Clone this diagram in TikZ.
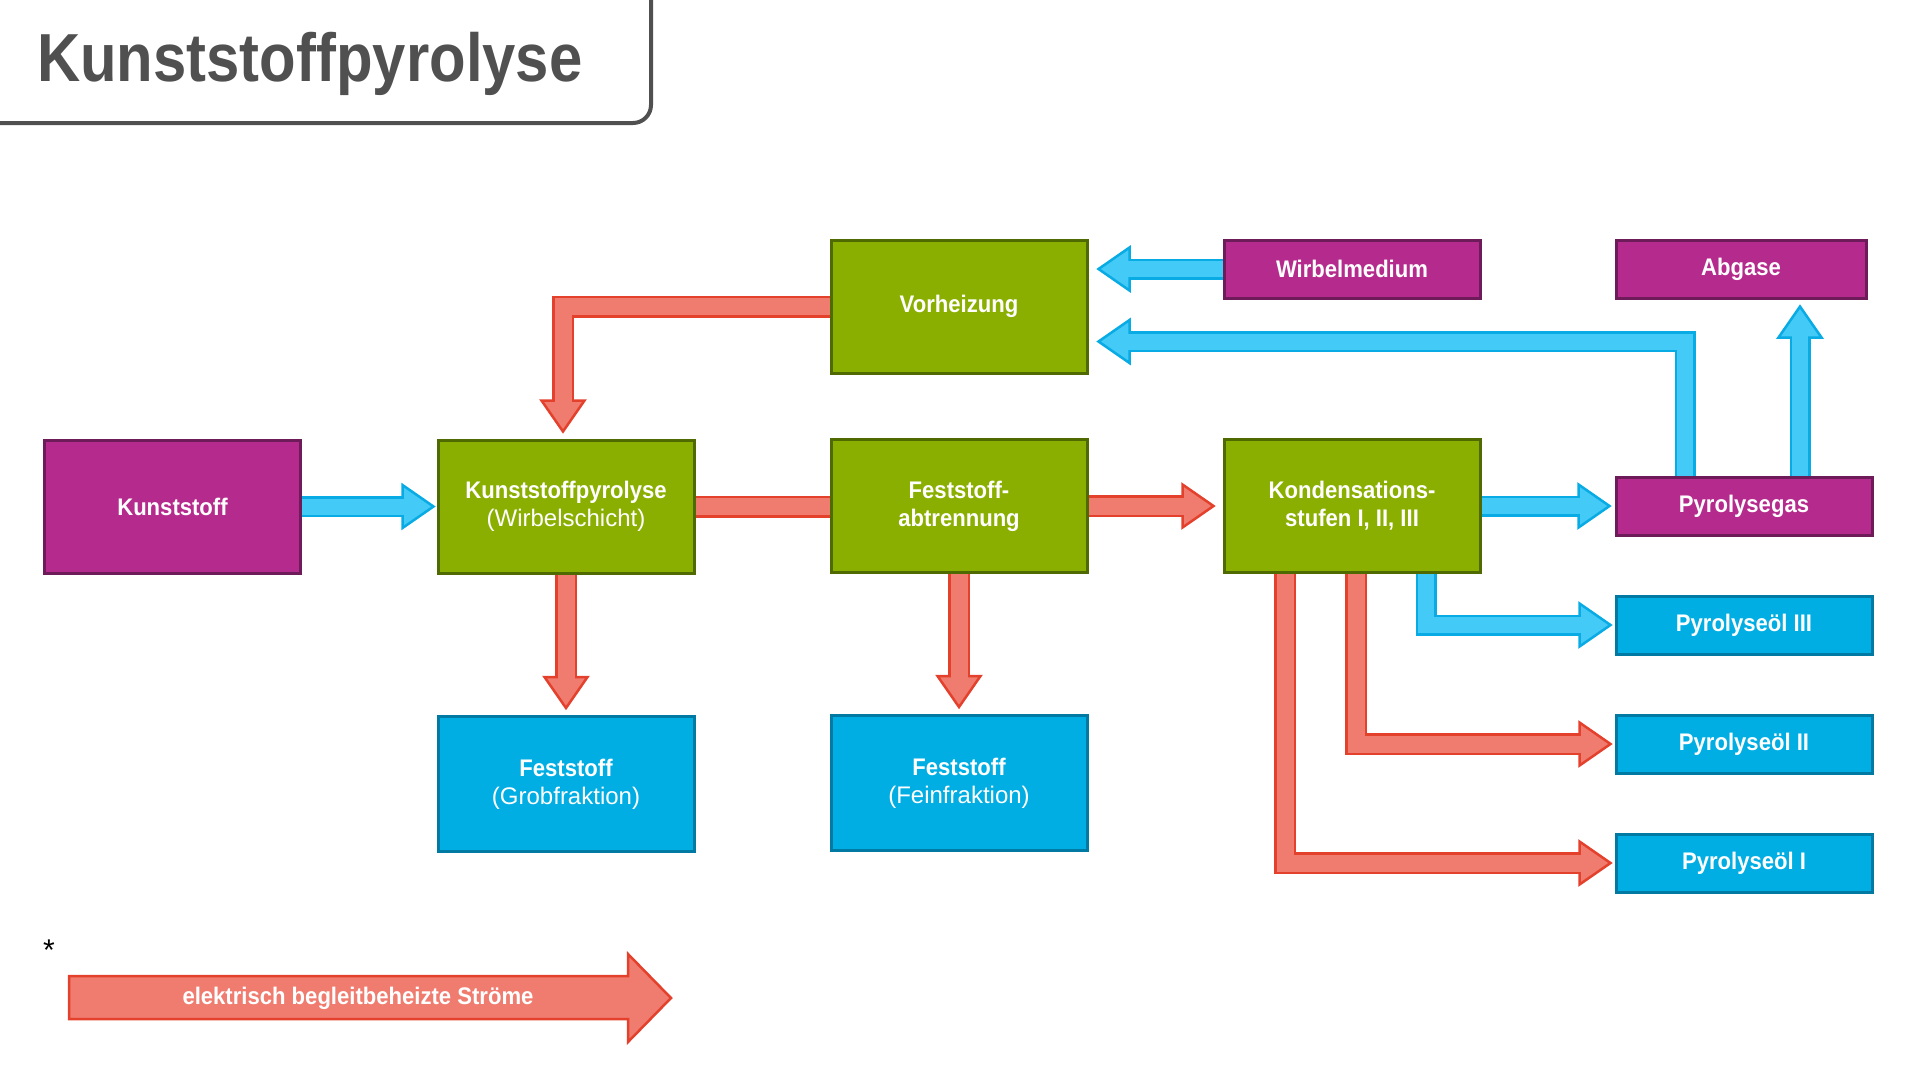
\documentclass[tikz,border=0pt]{standalone}
\usepackage{fontspec}
\setmainfont{Liberation Sans}
\newfontfamily\bxb{Liberation Sans}[FakeStretch=0.92]
\newfontfamily\ttlfont{Liberation Sans}[FakeStretch=0.88]
\usetikzlibrary{calc}
\pgfdeclarelayer{bg}
\pgfsetlayers{bg,main}

\definecolor{magF}{HTML}{B52B8D}
\definecolor{magD}{HTML}{6E1B5A}
\definecolor{grnF}{HTML}{8AAF00}
\definecolor{grnD}{HTML}{4F6A00}
\definecolor{bluF}{HTML}{00AEE3}
\definecolor{bluD}{HTML}{0079A3}
\definecolor{arbF}{HTML}{44CAF7}
\definecolor{arbD}{HTML}{08ABE3}
\definecolor{arrF}{HTML}{F07B6F}
\definecolor{arrD}{HTML}{E3412C}
\definecolor{ttl}{HTML}{505050}

\newcommand\boxtxt{\bxb\bfseries\fontsize{24}{28}\selectfont}
\newcommand\reg{\rmfamily\mdseries}

\tikzset{
  box/.style={draw, line width=3pt, minimum width=256pt, minimum height=133pt,
    inner sep=0pt, align=center, text=white, font=\boxtxt},
  magbox/.style={box, fill=magF, draw=magD},
  grnbox/.style={box, fill=grnF, draw=grnD},
  blubox/.style={box, fill=bluF, draw=bluD},
  blueedge/.style={draw=arbD, line width=21pt, line join=miter},
  bluebody/.style={draw=arbF, line width=16pt, line join=miter},
  bluehead/.style={fill=arbF, draw=arbD, line width=2.5pt, line join=miter},
  rededge/.style={draw=arrD, line width=22pt, line join=miter},
  redbody/.style={draw=arrF, line width=17pt, line join=miter},
  redhead/.style={fill=arrF, draw=arrD, line width=2.5pt, line join=miter},
}

% #1 colour prefix, #2 path up to base, #3 base coordinate, #4 tip coordinate
\newcommand\fatarrow[4]{%
  \filldraw[#1head] ($(#3)!21.5pt!90:(#4)$) -- (#4) -- ($(#3)!21.5pt!-90:(#4)$) -- cycle;
  \draw[#1edge] #2 (#3);
  \draw[#1body] #2 ($(#3)!3pt!(#4)$);
}

\begin{document}
\begin{tikzpicture}[x=1pt,y=-1pt]
\useasboundingbox (0,0) rectangle (1920,1080);
\clip (0,0) rectangle (1920,1080);

% title
\draw[draw=ttl, line width=4pt, rounded corners=18pt] (-10,123) -- (651,123) -- (651,-10);
\node[anchor=base west, inner sep=0pt, text=ttl,
  font=\ttlfont\bfseries\fontsize{68}{80}\selectfont] (title) at (37,81) {Kunststoffpyrolyse};

% boxes
\node[magbox] (kst) at (172.5,506.5) {Kunststoff};
\node[grnbox] (kp) at (566,506.5) {Kunststoffpyrolyse\\{\reg(Wirbelschicht)}};
\node[grnbox] (vh) at (959,306.5) {Vorheizung};
\node[grnbox] (fa) at (959,506) {Feststoff-\\abtrennung};
\node[grnbox] (ks) at (1352,506) {Kondensations-\\stufen I, II, III};
\node[magbox, minimum height=58pt] (wm) at (1352,269) {Wirbelmedium};
\node[magbox, minimum height=58pt, minimum width=250pt] (ab) at (1741,269) {Abgase};
\node[magbox, minimum height=58pt] (pg) at (1744,506) {Pyrolysegas};
\node[blubox, minimum height=58pt] (p3) at (1744,625) {Pyrolyseöl III};
\node[blubox, minimum height=58pt] (p2) at (1744,744) {Pyrolyseöl II};
\node[blubox, minimum height=58pt] (p1) at (1744,863) {Pyrolyseöl I};
\node[blubox, minimum height=135pt] (fg) at (566,784) {Feststoff\\{\reg(Grobfraktion)}};
\node[blubox, minimum height=135pt] (ff) at (959,783) {Feststoff\\{\reg(Feinfraktion)}};

% legend
\node[inner sep=0pt, text=white, font=\boxtxt] (leg) at (358,998) {elektrisch begleitbeheizte Ströme};
\node[inner sep=0pt, font=\fontsize{30}{36}\selectfont] (ast) at (49,950) {*};

\begin{pgfonlayer}{bg}
% legend arrow
\filldraw[redhead] (69,976) -- (628,976) -- (628,954) -- (671,998) -- (628,1042) -- (628,1019) -- (69,1019) -- cycle;

% Kunststoff -> Kunststoffpyrolyse
\coordinate (t1) at ($(kp.west)+(-3,0)$);
\coordinate (b1) at ($(t1)+(-31,0)$);
\fatarrow{blue}{(kst.east) --}{b1}{t1}

% Kunststoffpyrolyse -- Feststoffabtrennung
\draw[rededge] (kp.east) -- (kp.east -| fa.west);
\draw[redbody] (kp.east) -- (kp.east -| fa.west);

% Feststoffabtrennung -> Kondensation
\coordinate (t3) at ($(ks.west)+(-9,0)$);
\coordinate (b3) at ($(t3)+(-31,0)$);
\fatarrow{red}{(fa.east) --}{b3}{t3}

% Kondensation -> Pyrolysegas
\coordinate (t4) at ($(pg.west)+(-5,0)$);
\coordinate (b4) at ($(t4)+(-31,0)$);
\fatarrow{blue}{(ks.east) --}{b4}{t4}

% Kunststoffpyrolyse -> Feststoff Grob
\coordinate (t5) at ($(fg.north)+(0,-7)$);
\coordinate (b5) at ($(t5)+(0,-31)$);
\fatarrow{red}{(kp.south) --}{b5}{t5}

% Feststoffabtrennung -> Feststoff Fein
\coordinate (t6) at ($(ff.north)+(0,-7)$);
\coordinate (b6) at ($(t6)+(0,-31)$);
\fatarrow{red}{(fa.south) --}{b6}{t6}

% Vorheizung -> Kunststoffpyrolyse
\coordinate (t7) at ($(kp.north)+(-3,-7)$);
\coordinate (b7) at ($(t7)+(0,-31)$);
\coordinate (c7) at (t7 |- vh.west);
\fatarrow{red}{(vh.west) -- (c7) --}{b7}{t7}

% Wirbelmedium -> Vorheizung
\coordinate (t8) at ($(wm.west -| vh.east)+(10,0)$);
\coordinate (b8) at ($(t8)+(31,0)$);
\fatarrow{blue}{(wm.west) --}{b8}{t8}

% Pyrolysegas -> Vorheizung
\coordinate (s9) at ($(pg.north)+(-59,0)$);
\coordinate (t9) at ($(vh.east)+(10,35)$);
\coordinate (b9) at ($(t9)+(31,0)$);
\coordinate (c9) at (s9 |- t9);
\fatarrow{blue}{(s9) -- (c9) --}{b9}{t9}

% Pyrolysegas -> Abgase
\coordinate (s10) at ($(pg.north)+(56,0)$);
\coordinate (t10) at ($(s10 |- ab.south)+(0,7)$);
\coordinate (b10) at ($(t10)+(0,31)$);
\fatarrow{blue}{(s10) --}{b10}{t10}

% Kondensation -> Pyrolyseoel III
\coordinate (s11) at ($(ks.south)+(74,0)$);
\coordinate (t11) at ($(p3.west)+(-4,0)$);
\coordinate (b11) at ($(t11)+(-31,0)$);
\coordinate (c11) at (s11 |- t11);
\fatarrow{blue}{(s11) -- (c11) --}{b11}{t11}

% Kondensation -> Pyrolyseoel II
\coordinate (s12) at ($(ks.south)+(4,0)$);
\coordinate (t12) at ($(p2.west)+(-4,0)$);
\coordinate (b12) at ($(t12)+(-31,0)$);
\coordinate (c12) at (s12 |- t12);
\fatarrow{red}{(s12) -- (c12) --}{b12}{t12}

% Kondensation -> Pyrolyseoel I
\coordinate (s13) at ($(ks.south)+(-67,0)$);
\coordinate (t13) at ($(p1.west)+(-4,0)$);
\coordinate (b13) at ($(t13)+(-31,0)$);
\coordinate (c13) at (s13 |- t13);
\fatarrow{red}{(s13) -- (c13) --}{b13}{t13}
\end{pgfonlayer}
\end{tikzpicture}
\end{document}
